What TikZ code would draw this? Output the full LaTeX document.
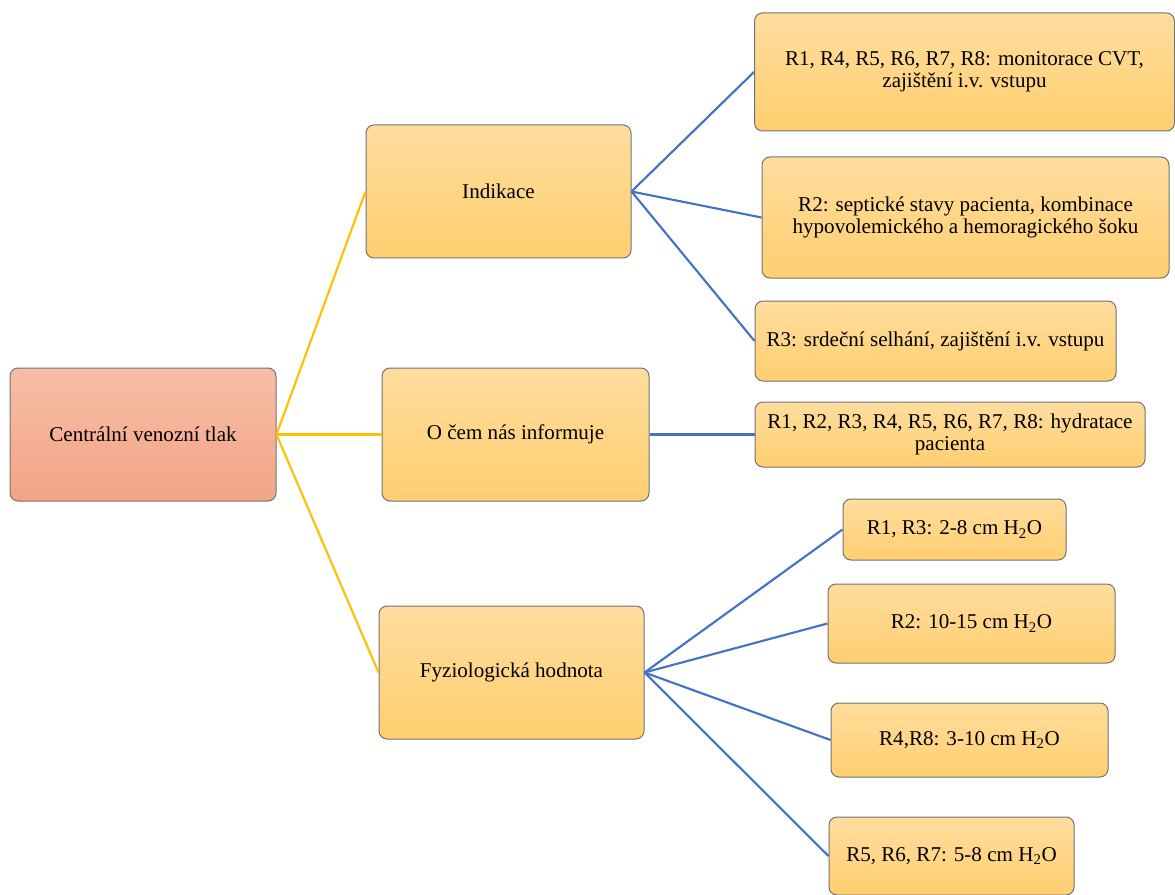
\documentclass[tikz,border=0pt]{standalone}
\usepackage{fontspec}
\setmainfont{Liberation Serif}
\definecolor{leaftop}{RGB}{255,221,158}
\definecolor{leafbot}{RGB}{255,207,112}
\definecolor{roottop}{RGB}{246,190,166}
\definecolor{rootbot}{RGB}{243,164,132}
\definecolor{linegold}{RGB}{255,192,0}
\definecolor{lineblue}{RGB}{68,114,196}
\begin{document}
\begin{tikzpicture}[x=0.75pt,y=-0.75pt,
  box/.style 2 args={rectangle, rounded corners=6pt, draw=black!55,
    line width=0.75pt, minimum width=#1*0.75pt, minimum height=#2*0.75pt,
    inner sep=0pt, align=center, font=\fontsize{15.8}{16.5}\selectfont},
  leaf/.style={top color=leaftop, bottom color=leafbot},
  rootbox/.style={top color=roottop, bottom color=rootbot},
  yline/.style={draw=linegold, line width=1.6pt},
  bline/.style={draw=lineblue, line width=1.6pt}]
\useasboundingbox (0,0) rectangle (1175,895);

% root and second level
\node[box={266}{133}, rootbox] (root) at (143,434.5) {Centrální venozní tlak};
\node[box={265}{133}, leaf] (ind) at (498.5,191.5) {Indikace};
\node[box={267}{133}, leaf] (inf) at (515.5,434.5) {O čem nás informuje};
\node[box={265}{133}, leaf] (fyz) at (511.5,672.5) {Fyziologická hodnota};

% third level
\node[box={420}{118}, leaf] (a1) at (964.5,72) {R1, R4, R5, R6, R7, R8: monitorace CVT,\\ zajištění i.v. vstupu};
\node[box={407}{121}, leaf] (a2) at (965.5,217.5) {R2: septické stavy pacienta, kombinace\\ hypovolemického a hemoragického šoku};
\node[box={361}{80}, leaf] (a3) at (935.5,341) {R3: srdeční selhání, zajištění i.v. vstupu};
\node[box={390}{65}, leaf] (b1) at (950,434.5) {R1, R2, R3, R4, R5, R6, R7, R8: hydratace\\ pacienta};
\node[box={223}{61}, leaf] (c1) at (954.5,529.5) {R1, R3: 2-8 cm H\textsubscript{2}O};
\node[box={287}{79}, leaf] (c2) at (971.5,623.5) {R2: 10-15 cm H\textsubscript{2}O};
\node[box={277}{74}, leaf] (c3) at (969.5,740) {R4,R8: 3-10 cm H\textsubscript{2}O};
\node[box={245}{78}, leaf] (c4) at (951.5,856) {R5, R6, R7: 5-8 cm H\textsubscript{2}O};

% connectors
\draw[yline] (root.east) -- (ind.west);
\draw[yline] (root.east) -- (inf.west);
\draw[yline] (root.east) -- (fyz.west);
\draw[bline] (ind.east) -- (a1.west);
\draw[bline] (ind.east) -- (a2.west);
\draw[bline] (ind.east) -- (a3.west);
\draw[bline] (inf.east) -- (b1.west);
\draw[bline] (fyz.east) -- (c1.west);
\draw[bline] (fyz.east) -- (c2.west);
\draw[bline] (fyz.east) -- (c3.west);
\draw[bline] (fyz.east) -- (c4.west);
\end{tikzpicture}
\end{document}
